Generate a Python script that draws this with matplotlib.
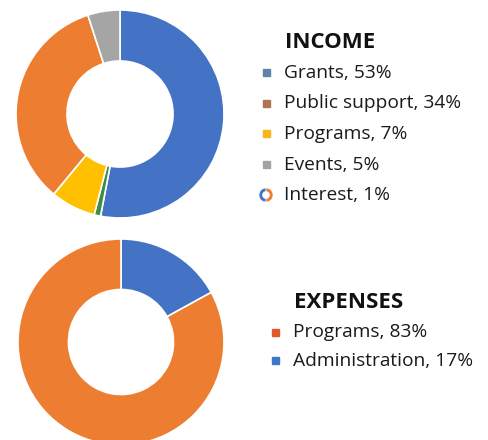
import numpy as np
import matplotlib
matplotlib.use('Agg')
import matplotlib.pyplot as plt
from matplotlib.patches import Rectangle

# income donut, clockwise from 12 o'clock
income_labels = ["Grants", "Interest", "Programs", "Public support", "Events"]
income_values = [53, 1, 7, 34, 5]
income_colors = ["#4472C4", "#3E8E41", "#FFC000", "#ED7D31", "#A5A5A5"]

# legend order for income
income_legend = ["Grants, 53%", "Public support, 34%", "Programs, 7%", "Events, 5%", "Interest, 1%"]
income_legend_colors = ["#5E84A8", "#B27254", "#F8B51C", "#A3A3A3", None]

expense_labels = ["Administration", "Programs"]
expense_values = [17, 83]
expense_colors = ["#4472C4", "#ED7D31"]
expense_legend = ["Programs, 83%", "Administration, 17%"]
expense_legend_colors = ["#E2582A", "#3D78C6"]

W, H = 488, 440
plt.rcParams['font.family'] = ['Open Sans', 'DejaVu Sans']
fig = plt.figure(figsize=(W / 100, H / 100), dpi=100)
fig.patch.set_facecolor("white")


def px_axes(x0, y0, x1, y1):
    # pixel box (top-left origin) -> figure axes
    return fig.add_axes([x0 / W, 1 - y1 / H, (x1 - x0) / W, (y1 - y0) / H])


def donut(ax, values, colors):
    ax.pie(values, colors=colors, startangle=90, counterclock=False,
           radius=1.0, wedgeprops=dict(width=0.49, edgecolor="white", linewidth=1.2))
    ax.set_xlim(-1, 1)
    ax.set_ylim(-1, 1)
    ax.set_aspect("equal")
    ax.axis("off")


ax1 = px_axes(16, 10, 224, 218)
donut(ax1, income_values, income_colors)

ax2 = px_axes(18, 239, 224, 445)
donut(ax2, expense_values, expense_colors)


def fx(x):
    return x / W


def fy(y):
    return 1 - y / H


def legend_block(title, tx, ty, items, cols, mx, y0, dy):
    fig.text(fx(tx), fy(ty), title, fontsize=16, fontweight="bold",
             va="center", ha="left", color="#111111")
    for i, (lab, c) in enumerate(zip(items, cols)):
        y = y0 + i * dy
        if c is None:
            # small donut icon
            lax = px_axes(mx - 7, y - 7, mx + 7, y + 7)
            lax.pie([50, 50], colors=["#3D78C6", "#ED7D31"], startangle=90,
                    wedgeprops=dict(width=0.5, edgecolor="white", linewidth=0.4))
            lax.set_xlim(-1, 1)
            lax.set_ylim(-1, 1)
            lax.axis("off")
        else:
            fig.patches.append(Rectangle((fx(mx - 3.5), fy(y + 3.5)), 7 / W, 7 / H,
                                         transform=fig.transFigure, color=c, figure=fig))
        fig.text(fx(mx + 18), fy(y), lab, fontsize=13.8, va="center", ha="left", color="#1a1a1a")


legend_block("INCOME", 285, 42, income_legend, income_legend_colors, 266, 73, 30.5)
legend_block("EXPENSES", 294, 302, expense_legend, expense_legend_colors, 275, 332, 28.5)

fig.savefig("out.png", dpi=100, facecolor="white")
